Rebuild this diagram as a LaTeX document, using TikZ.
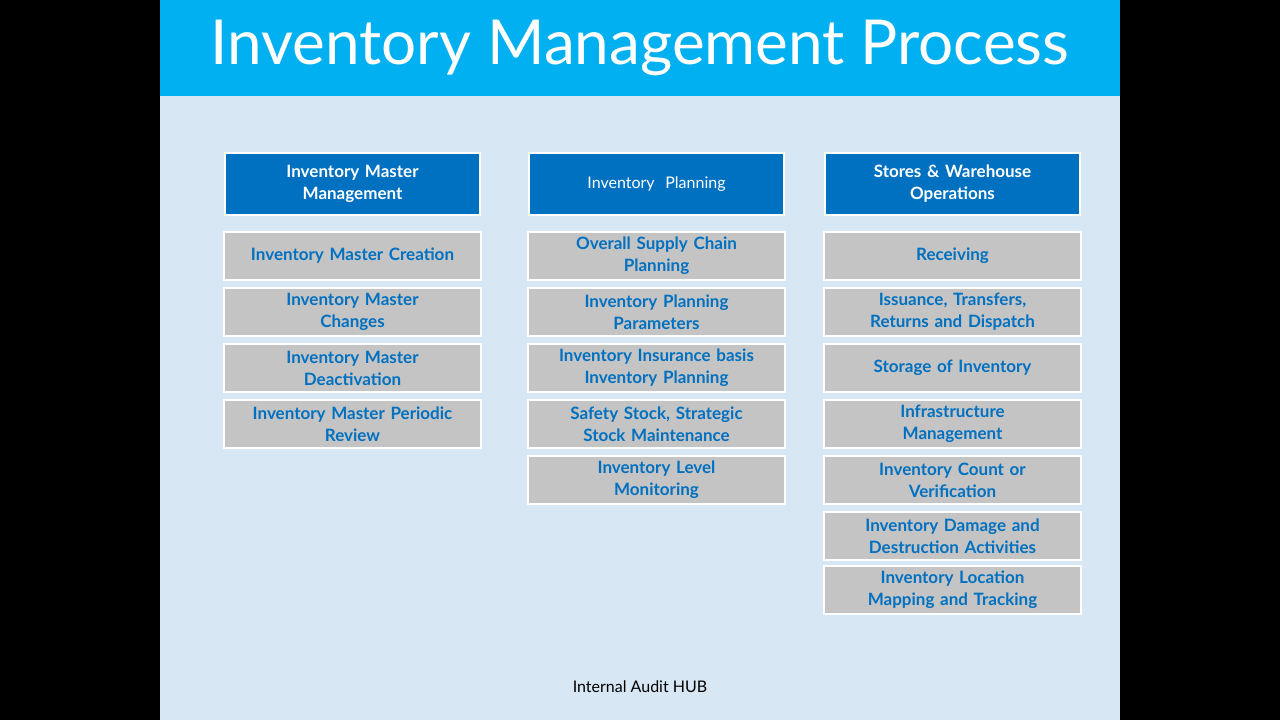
\documentclass[tikz,border=0pt]{standalone}
\usepackage{fontspec}
\setmainfont{Lato}
\definecolor{titleblue}{HTML}{00B0F0}
\definecolor{bgblue}{HTML}{D7E7F4}
\definecolor{hdrblue}{HTML}{0070C0}
\definecolor{txtblue}{HTML}{0070C0}
\definecolor{boxgray}{HTML}{C4C4C4}
\begin{document}
\begin{tikzpicture}[x=1pt,y=-1pt,
  hdr/.style={draw=white,line width=2pt,fill=hdrblue,minimum width=255pt,minimum height=62pt,text width=245pt,align=center,text=white,font=\fontsize{17}{22}\selectfont\bfseries},
  item/.style={draw=white,line width=2pt,fill=boxgray,minimum width=255pt,minimum height=48pt,text width=250pt,align=center,text=txtblue,font=\fontsize{17}{22}\selectfont\bfseries}]
\useasboundingbox (0,0) rectangle (1280,720);
\fill[black] (0,0) rectangle (1280,720);
\fill[bgblue] (160,96) rectangle (1120,720);
\fill[titleblue] (160,0) rectangle (1120,96);
\node[text=white,font=\fontsize{62}{70}\selectfont] (title) at (640,48) {Inventory Management Process};
\node[hdr] (h1) at (352.5,184) {Inventory Master\\Management};
\node[hdr,font=\fontsize{16}{20}\selectfont] (h2) at (656.5,184) {Inventory\ \ Planning};
\node[hdr] (h3) at (952.5,184) {Stores \& Warehouse\\Operations};
\node[item] (a1) at (352.5,256) {Inventory Master Creation};
\node[item] (a2) at (352.5,312) {Inventory Master\\Changes};
\node[item] (a3) at (352.5,368) {Inventory Master\\Deactivation};
\node[item] (a4) at (352.5,424) {Inventory Master Periodic\\Review};
\node[item] (b1) at (656.5,256) {Overall Supply Chain\\Planning};
\node[item] (b2) at (656.5,312) {Inventory Planning\\Parameters};
\node[item] (b3) at (656.5,368) {Inventory Insurance basis\\Inventory Planning};
\node[item] (b4) at (656.5,424) {Safety Stock, Strategic\\Stock Maintenance};
\node[item] (b5) at (656.5,480) {Inventory Level\\Monitoring};
\node[item] (c1) at (952.5,256) {Receiving};
\node[item] (c2) at (952.5,312) {Issuance, Transfers,\\Returns and Dispatch};
\node[item] (c3) at (952.5,368) {Storage of Inventory};
\node[item] (c4) at (952.5,424) {Infrastructure\\Management};
\node[item] (c5) at (952.5,480) {Inventory Count or\\Verification};
\node[item] (c6) at (952.5,536) {Inventory Damage and\\Destruction Activities};
\node[item] (c7) at (952.5,590) {Inventory Location\\Mapping and Tracking};
\node[font=\fontsize{16}{20}\selectfont] (foot) at (640,687) {Internal Audit HUB};
\end{tikzpicture}
\end{document}
